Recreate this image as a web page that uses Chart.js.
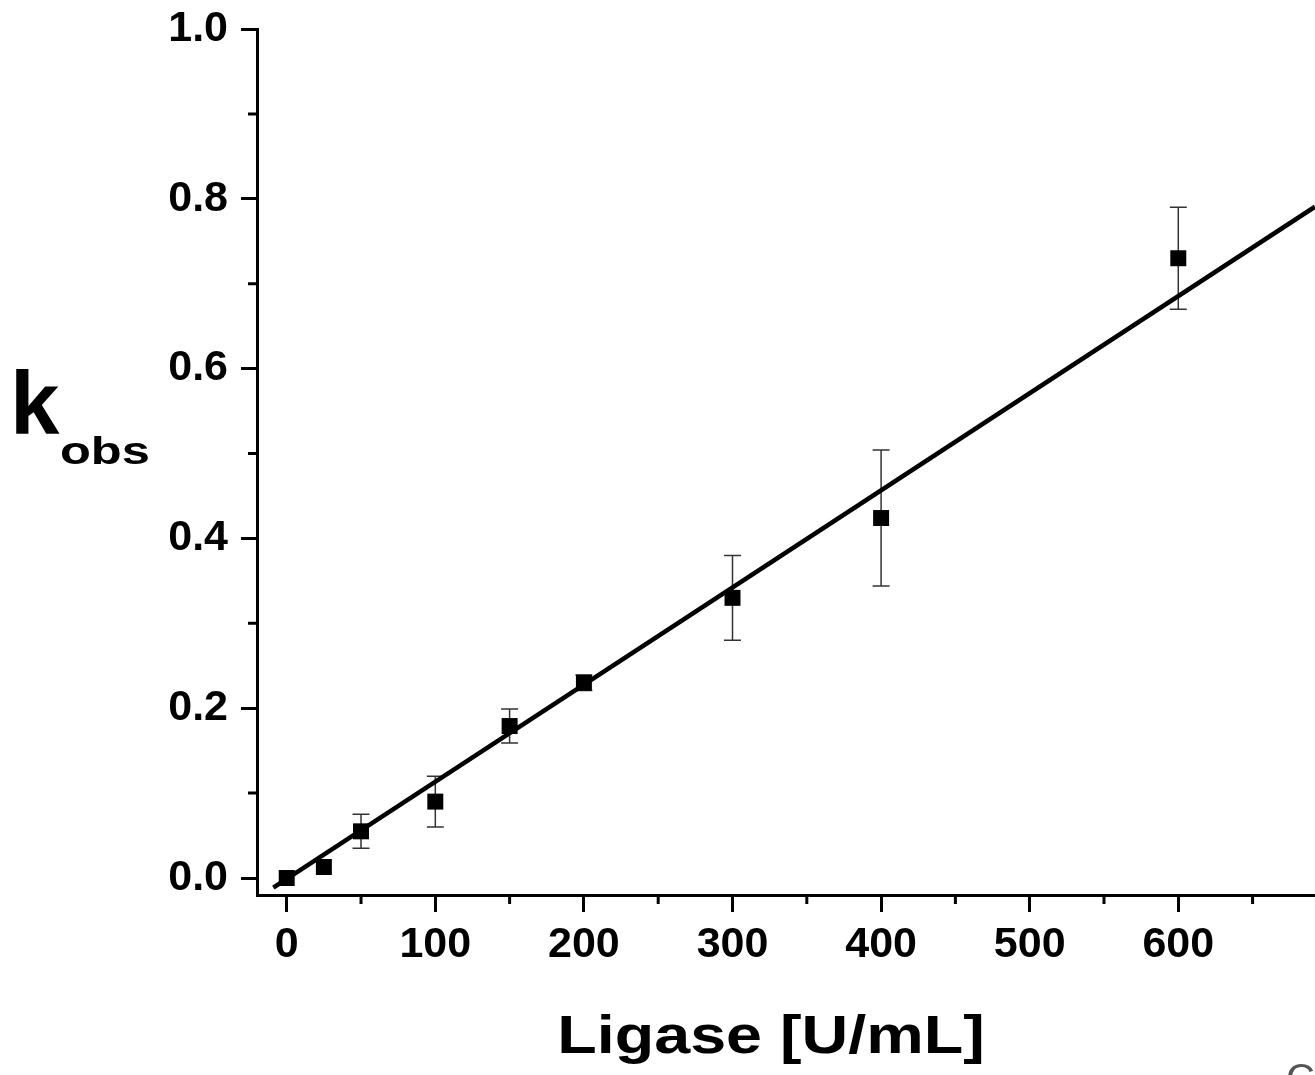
<!DOCTYPE html>
<html>
<head>
<meta charset="utf-8">
<script src="https://cdn.jsdelivr.net/npm/chart.js@4.4.0/dist/chart.umd.min.js"></script>
<style>
  body { margin: 0; background: #fff; }
  #wrap { width: 1315px; height: 1075px; }
</style>
</head>
<body>
<div id="wrap"><canvas id="chart" width="1315" height="1075"></canvas></div>
<script>
// measured points
const ligase = [0, 25, 50, 100, 150, 200, 300, 400, 600];
const kobs = [0.000, 0.013, 0.055, 0.090, 0.179, 0.230, 0.330, 0.424, 0.730];
const kobsErr = [0, 0, 0.020, 0.030, 0.020, 0.009, 0.050, 0.080, 0.060];

// linear fit line ends
const fitX = [-9, 692];
const fitY = [-0.0113, 0.7907];

// minor tick positions
const xMinor = [50, 150, 250, 350, 450, 550, 650];
const yMinor = [0.1, 0.3, 0.5, 0.7, 0.9];

const FONT = '"Liberation Sans", Arial, sans-serif';

const errorBars = {
  id: 'errorBars',
  beforeDatasetsDraw(chart) {
    const {ctx, scales: {x, y}} = chart;
    ctx.save();
    ctx.strokeStyle = '#333';
    ctx.lineWidth = 1.5;
    ligase.forEach((v, i) => {
      if (!kobsErr[i]) return;
      const px = x.getPixelForValue(v);
      const top = y.getPixelForValue(kobs[i] + kobsErr[i]);
      const bot = y.getPixelForValue(kobs[i] - kobsErr[i]);
      ctx.beginPath();
      ctx.moveTo(px, top); ctx.lineTo(px, bot);
      ctx.moveTo(px - 8.5, top); ctx.lineTo(px + 8.5, top);
      ctx.moveTo(px - 8.5, bot); ctx.lineTo(px + 8.5, bot);
      ctx.stroke();
    });
    ctx.restore();
  }
};

const extras = {
  id: 'extras',
  afterDraw(chart) {
    const {ctx, chartArea, scales: {x, y}} = chart;
    ctx.save();
    // minor ticks
    ctx.strokeStyle = '#000';
    ctx.lineWidth = 3;
    ctx.beginPath();
    xMinor.forEach(v => {
      const px = x.getPixelForValue(v);
      ctx.moveTo(px, chartArea.bottom); ctx.lineTo(px, chartArea.bottom + 9);
    });
    yMinor.forEach(v => {
      const py = y.getPixelForValue(v);
      ctx.moveTo(chartArea.left, py); ctx.lineTo(chartArea.left - 9, py);
    });
    ctx.stroke();

    // axis titles
    ctx.fillStyle = '#000';
    ctx.textBaseline = 'alphabetic';
    ctx.save();
    ctx.translate(771, 1053);
    ctx.scale(1.22, 1);
    ctx.font = 'bold 53px ' + FONT;
    ctx.textAlign = 'center';
    ctx.fillText('Ligase [U/mL]', 0, 0);
    ctx.restore();

    ctx.textAlign = 'left';
    ctx.font = 'bold 89px ' + FONT;
    ctx.fillText('k', 10, 434);
    ctx.save();
    ctx.translate(60, 464);
    ctx.scale(1.33, 1);
    ctx.font = 'bold 38px ' + FONT;
    ctx.fillText('obs', 0, 0);
    ctx.restore();

    // corner letter
    ctx.fillStyle = '#555';
    ctx.font = '40px ' + FONT;
    ctx.fillText('C', 1286, 1092);
    ctx.restore();
  }
};

new Chart(document.getElementById('chart'), {
  type: 'scatter',
  data: {
    datasets: [
      {
        data: ligase.map((v, i) => ({x: v, y: kobs[i]})),
        pointStyle: 'rect',
        pointRadius: 11.3,
        pointBackgroundColor: '#000',
        pointBorderWidth: 0,
        order: 1
      },
      {
        data: fitX.map((v, i) => ({x: v, y: fitY[i]})),
        showLine: true,
        borderColor: '#000',
        borderWidth: 4.5,
        pointRadius: 0,
        order: 2
      }
    ]
  },
  options: {
    responsive: false,
    animation: false,
    layout: { autoPadding: false, padding: { top: 29, left: 0, right: 0, bottom: 0 } },
    plugins: { legend: { display: false }, tooltip: { enabled: false } },
    scales: {
      x: {
        type: 'linear',
        min: -20,
        max: 692,
        afterFit: s => { s.height = 180; s.paddingLeft = 0; s.paddingRight = 0; },
        border: { display: true, color: '#000', width: 3 },
        grid: { drawOnChartArea: false, drawTicks: true, tickLength: 17, lineWidth: 3, color: '#000' },
        ticks: {
          stepSize: 100,
          includeBounds: false,
          padding: 7,
          color: '#000',
          font: { family: FONT, size: 43, weight: 'bold' }
        }
      },
      y: {
        type: 'linear',
        min: -0.02,
        max: 1.0,
        afterFit: s => { s.width = 257; s.paddingTop = 0; s.paddingBottom = 0; },
        border: { display: true, color: '#000', width: 3 },
        grid: { drawOnChartArea: false, drawTicks: true, tickLength: 16, lineWidth: 3, color: '#000' },
        ticks: {
          stepSize: 0.2,
          includeBounds: false,
          padding: 13,
          color: '#000',
          font: { family: FONT, size: 43, weight: 'bold' },
          callback: v => v.toFixed(1)
        }
      }
    }
  },
  plugins: [errorBars, extras]
});
</script>
</body>
</html>
